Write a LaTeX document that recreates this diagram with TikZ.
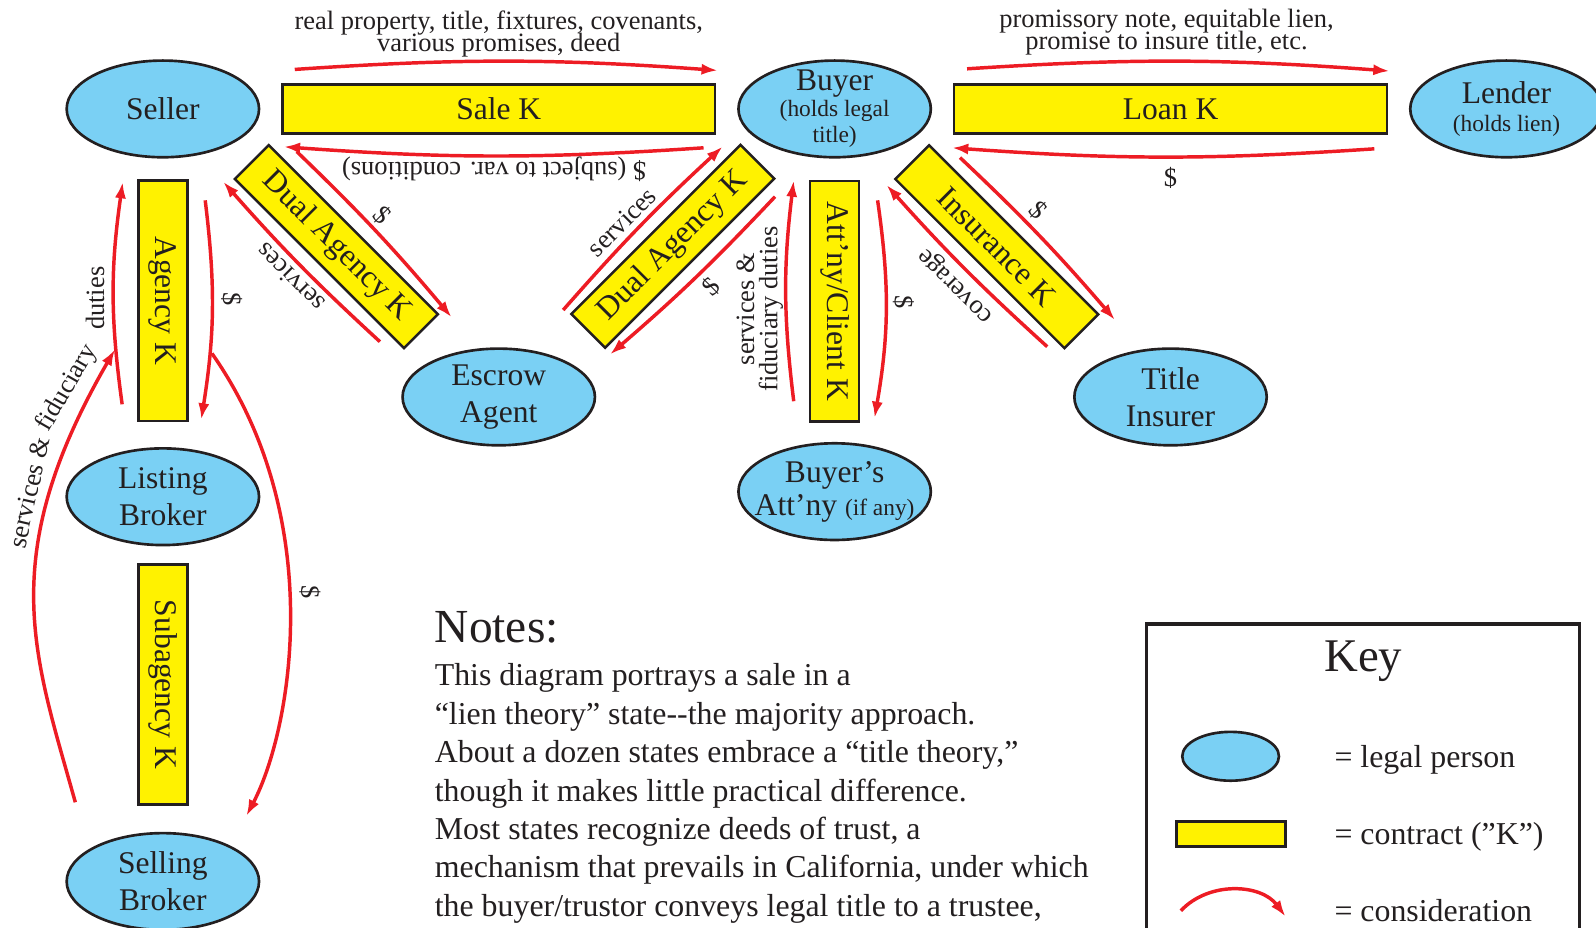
\documentclass[tikz,border=0pt]{standalone}
\usepackage{fontspec}
\setmainfont{Liberation Serif}
\usetikzlibrary{shapes.geometric,arrows.meta}
\definecolor{partyblue}{RGB}{122,208,244}
\definecolor{kyellow}{RGB}{255,242,0}
\definecolor{conred}{RGB}{237,28,36}
\definecolor{inkgray}{RGB}{35,31,32}
\newcommand{\subsize}{\fontsize{23}{25}\selectfont}
\newcommand{\flowsize}{\fontsize{26}{21.5}\selectfont\lineskiplimit=-30pt\relax}
\begin{document}
\begin{tikzpicture}[x=1pt,y=1pt,>={Latex[length=16pt,width=11pt]},
  party/.style={ellipse,draw=inkgray,fill=partyblue,line width=2.6pt,minimum width=189pt,minimum height=95pt,inner sep=-40pt,align=center,text=inkgray,font=\fontsize{31}{36}\selectfont},
  contract/.style={rectangle,draw=inkgray,fill=kyellow,line width=2.4pt,minimum width=236pt,minimum height=48pt,inner sep=0pt,text=inkgray,font=\fontsize{31}{36}\selectfont},
  cons/.style={draw=conred,line width=3.4pt,->},
  flow/.style={inner sep=0pt,align=center,text=inkgray,font=\flowsize}]
\useasboundingbox (0,0) rectangle (1568,-911);
\clip (0,0) rectangle (1568,-911);
\node[party] (seller) at (160,-107) {Seller};
\node[party,font=\fontsize{31}{25.5}\selectfont] (buyer) at (820,-107) {Buyer\\\subsize(holds legal\\\subsize title)};
\node[party,font=\fontsize{31}{28}\selectfont] (lender) at (1480,-107) {Lender\\\subsize(holds lien)};
\node[party] (escrow) at (490,-390) {Escrow\\Agent};
\node[party] (titleins) at (1150,-390) {Title\\Insurer};
\node[party,font=\fontsize{31}{32}\selectfont] (battny) at (820,-483) {Buyer’s\\Att’ny {\subsize(if any)}};
\node[party] (listing) at (160,-488) {Listing\\Broker};
\node[party] (selling) at (160,-866) {Selling\\Broker};
\node[contract,minimum width=425pt] (saleK) at (490,-107) {Sale K};
\node[contract,minimum width=425pt] (loanK) at (1150,-107) {Loan K};
\node[contract,rotate=-90] (agencyK) at (160,-295.5) {Agency K};
\node[contract,rotate=-90] (subagK) at (160,-672.5) {Subagency K};
\node[contract,rotate=-90] (attK) at (820,-296) {Att’ny/Client K};
\node[contract,rotate=-45,minimum width=235pt,minimum height=47pt] (dualL) at (330.5,-242.3) {Dual Agency K};
\node[contract,rotate=45,minimum width=235pt,minimum height=47pt] (dualR) at (661,-242) {Dual Agency K};
\node[contract,rotate=-45,minimum width=235pt,minimum height=47pt] (insK) at (979.3,-242.4) {Insurance K};
\draw[cons] ([shift={(13.3,13.6)}]saleK.north west) to[bend left=4] ([shift={(1.5,12.6)}]saleK.north east);
\draw[cons] ([shift={(-12.5,-13)}]saleK.south east) to[bend left=4] ([shift={(2.5,-12)}]saleK.south west);
\draw[cons] ([shift={(13.8,14.2)}]loanK.north west) to[bend left=4] ([shift={(1.5,12)}]loanK.north east);
\draw[cons] ([shift={(-13.5,-14)}]loanK.south east) to[bend left=4] ([shift={(-1,-13)}]loanK.south west);
\draw[cons] ([shift={(27.5,-8)}]dualL.north west) to[bend left=3] ([shift={(11.8,-3)}]dualL.north east);
\draw[cons] ([shift={(-23.7,8)}]dualL.south east) to[bend left=3] ([shift={(-9.8,-2.7)}]dualL.south west);
\draw[cons] ([shift={(-6.3,3.9)}]dualR.north west) to[bend left=3] ([shift={(-17.5,-3.4)}]dualR.north east);
\draw[cons] ([shift={(-1,-17.7)}]dualR.south east) to[bend left=3] ([shift={(4.8,-4.8)}]dualR.south west);
\draw[cons] ([shift={(30.3,-13.8)}]insK.north west) to[bend left=3] ([shift={(14.7,-5.5)}]insK.north east);
\draw[cons] ([shift={(-16.9,3.2)}]insK.south east) to[bend left=3] ([shift={(-6.9,-5.8)}]insK.south west);
\draw[cons] ([shift={(-15,21)}]attK.south east) to[bend left=7] ([shift={(-15,-0.5)}]attK.south west);
\draw[cons] ([shift={(17,-20)}]attK.north west) to[bend left=9] ([shift={(14,4.6)}]attK.north east);
\draw[cons] ([shift={(-14.8,17.5)}]agencyK.south east) to[bend left=8] ([shift={(-14.2,-2.5)}]agencyK.south west);
\draw[cons] ([shift={(16.4,-20.5)}]agencyK.north west) to[bend left=8] ([shift={(12.5,2.5)}]agencyK.north east);
\draw[cons] ([shift={(-86,29)}]selling.north) .. controls +(-40.4,145) and +(-118.3,-204.7) .. ([shift={(-47,96)}]listing.north);
\draw[cons] ([shift={(23,67.5)}]agencyK.north east) .. controls +(114.4,-163) and +(44.4,84.3) .. ([shift={(82,15.5)}]selling.north);
\node[flow] (saleTxt) at (490,-33.5) {real property, title, fixtures, covenants,\\various promises, deed};
\node[flow,rotate=180] (saleBack) at (485.5,-166) {\$ (subject to var. conditions)};
\node[flow] (loanTxt) at (1146,-31.5) {promissory note, equitable lien,\\promise to insure title, etc.};
\node[flow] (loanBack) at (1150,-175) {\$};
\node[flow,rotate=-45] (dualLpay) at (376,-211) {\$};
\node[flow,rotate=135] (dualLsvc) at (285,-273) {services};
\node[flow,rotate=45] (dualRsvc) at (611,-218) {services};
\node[flow,rotate=45] (dualRpay) at (699,-282) {\$};
\node[flow,rotate=-45] (insPay) at (1020,-206.3) {\$};
\node[flow,rotate=135] (insCov) at (940,-279.5) {coverage};
\node[flow,rotate=90,font=\fontsize{26}{23}\selectfont] (attSvc) at (746.5,-303.6) {services \&\\fiduciary duties};
\node[flow,rotate=-90] (attPay) at (887.5,-296.4) {\$};
\node[flow,rotate=-90] (agencyPay) at (227.6,-294) {\$};
\node[flow,rotate=77] (svcA) at (28.7,-483.7) {services \&};
\node[flow,rotate=60] (svcB) at (66,-381.5) {fiduciary};
\node[flow,rotate=90] (svcC) at (93.3,-293) {duties};
\node[flow,rotate=-90] (brokerPay) at (304.5,-582) {\$};
\node[anchor=base west,inner sep=0pt,text=inkgray,font=\fontsize{46.6}{50}\selectfont] (notesHead) at (427,-631) {Notes:};
\node[anchor=north west,inner sep=0pt,align=left,text=inkgray,font=\fontsize{31.3}{37.7}\selectfont] (notesBody) at (427,-652) {This diagram portrays a sale in a\\“lien theory” state-{}-the majority approach.\\About a dozen states embrace a “title theory,”\\though it makes little practical difference.\\Most states recognize deeds of trust, a\\mechanism that prevails in California, under which\\the buyer/trustor conveys legal title to a trustee,};
\draw[draw=inkgray,line width=3.2pt] (1126.5,-613) rectangle (1552,-960);
\node[anchor=base,inner sep=0pt,text=inkgray,font=\fontsize{46}{50}\selectfont] (keyHead) at (1339.4,-659.9) {Key};
\node[party,minimum width=95pt,minimum height=48pt] (keyParty) at (1209,-743) {};
\node[contract,minimum width=107pt,minimum height=24.6pt] (keyContract) at (1209.5,-819.5) {};
\coordinate (keyArcA) at (1160.2,-894.7);
\coordinate (keyArcB) at (1263,-900.5);
\draw[cons] (keyArcA) to[bend left=50] (keyArcB);
\node[anchor=base west,inner sep=0pt,text=inkgray,font=\fontsize{31.3}{36}\selectfont] (keyPartyTxt) at (1310.9,-754.5) {= legal person};
\node[anchor=base west,inner sep=0pt,text=inkgray,font=\fontsize{31.3}{36}\selectfont] (keyContractTxt) at (1310.9,-830) {= contract (”K”)};
\node[anchor=base west,inner sep=0pt,text=inkgray,font=\fontsize{31.3}{36}\selectfont] (keyConsTxt) at (1310.9,-905.5) {= consideration};
\end{tikzpicture}
\end{document}
